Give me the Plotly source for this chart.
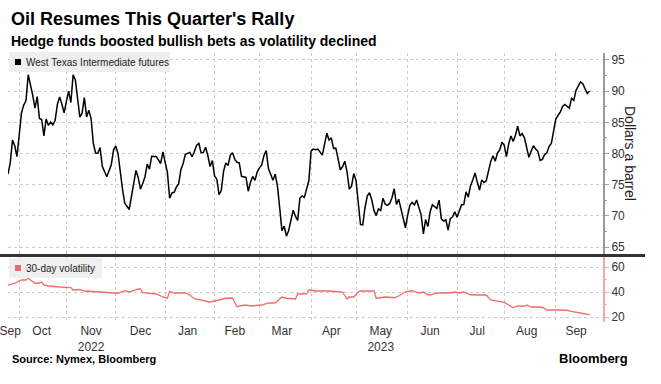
import plotly.graph_objects as go

# ---------------- data ----------------
wti_dates = [
    "2022-09-26", "2022-09-27", "2022-09-28", "2022-09-29", "2022-09-30",
    "2022-10-03", "2022-10-04", "2022-10-05", "2022-10-06", "2022-10-07", "2022-10-10", "2022-10-11",
    "2022-10-12", "2022-10-13", "2022-10-14", "2022-10-17", "2022-10-18", "2022-10-19", "2022-10-20",
    "2022-10-21", "2022-10-24", "2022-10-25", "2022-10-26", "2022-10-27", "2022-10-28", "2022-10-31",
    "2022-11-01", "2022-11-02", "2022-11-03", "2022-11-04", "2022-11-07", "2022-11-08", "2022-11-09",
    "2022-11-10", "2022-11-11", "2022-11-14", "2022-11-15", "2022-11-16", "2022-11-17", "2022-11-18",
    "2022-11-21", "2022-11-22", "2022-11-23", "2022-11-25", "2022-11-28", "2022-11-29", "2022-11-30",
    "2022-12-01", "2022-12-02", "2022-12-05", "2022-12-06", "2022-12-07", "2022-12-08", "2022-12-09",
    "2022-12-12", "2022-12-13", "2022-12-14", "2022-12-15", "2022-12-16", "2022-12-19", "2022-12-20",
    "2022-12-21", "2022-12-22", "2022-12-23", "2022-12-27", "2022-12-28", "2022-12-29", "2022-12-30",
    "2023-01-03", "2023-01-04", "2023-01-05", "2023-01-06", "2023-01-09", "2023-01-10", "2023-01-11",
    "2023-01-12", "2023-01-13", "2023-01-17", "2023-01-18", "2023-01-19", "2023-01-20", "2023-01-23",
    "2023-01-24", "2023-01-25", "2023-01-26", "2023-01-27", "2023-01-30", "2023-01-31",
    "2023-02-01", "2023-02-02", "2023-02-03", "2023-02-06", "2023-02-07", "2023-02-08", "2023-02-09",
    "2023-02-10", "2023-02-13", "2023-02-14", "2023-02-15", "2023-02-16", "2023-02-17", "2023-02-21",
    "2023-02-22", "2023-02-23", "2023-02-24", "2023-02-27", "2023-02-28",
    "2023-03-01", "2023-03-02", "2023-03-03", "2023-03-06", "2023-03-07", "2023-03-08", "2023-03-09",
    "2023-03-10", "2023-03-13", "2023-03-14", "2023-03-15", "2023-03-16", "2023-03-17", "2023-03-20",
    "2023-03-21", "2023-03-22", "2023-03-23", "2023-03-24", "2023-03-27", "2023-03-28", "2023-03-29",
    "2023-03-30", "2023-03-31",
    "2023-04-03", "2023-04-04", "2023-04-05", "2023-04-06", "2023-04-10", "2023-04-11", "2023-04-12",
    "2023-04-13", "2023-04-14", "2023-04-17", "2023-04-18", "2023-04-19", "2023-04-20", "2023-04-21",
    "2023-04-24", "2023-04-25", "2023-04-26", "2023-04-27", "2023-04-28",
    "2023-05-01", "2023-05-02", "2023-05-03", "2023-05-04", "2023-05-05", "2023-05-08", "2023-05-09",
    "2023-05-10", "2023-05-11", "2023-05-12", "2023-05-15", "2023-05-16", "2023-05-17", "2023-05-18",
    "2023-05-19", "2023-05-22", "2023-05-23", "2023-05-24", "2023-05-25", "2023-05-26", "2023-05-30",
    "2023-05-31",
    "2023-06-01", "2023-06-02", "2023-06-05", "2023-06-06", "2023-06-07", "2023-06-08", "2023-06-09",
    "2023-06-12", "2023-06-13", "2023-06-14", "2023-06-15", "2023-06-16", "2023-06-20", "2023-06-21",
    "2023-06-22", "2023-06-23", "2023-06-26", "2023-06-27", "2023-06-28", "2023-06-29", "2023-06-30",
    "2023-07-03", "2023-07-05", "2023-07-06", "2023-07-07", "2023-07-10", "2023-07-11", "2023-07-12",
    "2023-07-13", "2023-07-14", "2023-07-17", "2023-07-18", "2023-07-19", "2023-07-20", "2023-07-21",
    "2023-07-24", "2023-07-25", "2023-07-26", "2023-07-27", "2023-07-28", "2023-07-31",
    "2023-08-01", "2023-08-02", "2023-08-03", "2023-08-04", "2023-08-07", "2023-08-08", "2023-08-09",
    "2023-08-10", "2023-08-11", "2023-08-14", "2023-08-15", "2023-08-16", "2023-08-17", "2023-08-18",
    "2023-08-21", "2023-08-22", "2023-08-23", "2023-08-24", "2023-08-25", "2023-08-28", "2023-08-29",
    "2023-08-30", "2023-08-31",
    "2023-09-01", "2023-09-05", "2023-09-06", "2023-09-07", "2023-09-08", "2023-09-11", "2023-09-12",
    "2023-09-13", "2023-09-14", "2023-09-15", "2023-09-18", "2023-09-19", "2023-09-20", "2023-09-21",
    "2023-09-22",
]
wti_close = [
    76.71, 78.50, 82.15, 81.23, 79.49,
    83.63, 86.52, 87.76, 88.45, 92.64, 91.13, 89.35, 87.27, 89.11, 85.61, 85.46, 82.82, 85.55, 84.51,
    85.05, 84.58, 85.32, 87.91, 89.08, 87.90, 86.53,
    88.37, 90.00, 88.17, 92.61, 91.79, 88.91, 85.83, 86.47, 88.96, 85.87, 86.92, 85.59, 81.64, 80.08,
    80.04, 80.95, 77.94, 76.28, 77.24, 78.20, 80.55,
    81.22, 79.98, 76.93, 74.25, 72.01, 71.46, 71.02, 73.17, 75.39, 77.28, 76.11, 74.29, 75.19, 76.23,
    78.29, 77.49, 79.56, 79.53, 78.96, 78.40, 80.26,
    76.93, 72.84, 73.67, 73.77, 74.63, 75.12, 77.41, 78.39, 79.86, 80.18, 79.48, 80.33, 81.31, 81.62,
    80.13, 80.15, 81.01, 79.68, 77.90, 78.87,
    76.41, 75.88, 73.39, 74.11, 77.14, 78.47, 78.06, 79.72, 80.14, 79.06, 78.59, 78.49, 76.34, 76.16,
    73.95, 75.39, 76.32, 75.68, 77.05,
    77.69, 78.16, 79.68, 80.46, 77.58, 76.66, 75.72, 76.68, 74.80, 71.33, 67.61, 68.35, 66.74, 67.64,
    69.33, 70.90, 69.96, 69.26, 72.81, 73.20, 72.97, 74.37, 75.67,
    80.42, 80.71, 80.61, 80.70, 79.74, 81.53, 83.26, 82.16, 82.52, 80.83, 80.86, 79.16, 77.37, 77.87,
    78.76, 77.07, 74.30, 74.76, 76.78,
    75.66, 71.66, 68.60, 68.56, 71.34, 73.16, 73.71, 72.56, 70.87, 70.04, 71.11, 70.86, 72.83, 71.86,
    71.69, 71.99, 72.91, 74.34, 71.83, 72.67, 69.46, 68.09,
    70.10, 71.74, 72.15, 71.74, 72.53, 71.29, 70.17, 67.12, 69.42, 68.27, 70.62, 71.78, 71.19, 72.53,
    69.51, 69.16, 69.37, 67.70, 69.56, 69.86, 70.64,
    69.79, 71.79, 71.80, 73.86, 72.99, 74.83, 75.75, 76.89, 75.42, 74.15, 75.75, 75.35, 75.63, 77.07,
    78.74, 79.63, 78.78, 80.09, 80.58, 81.80,
    81.37, 79.49, 81.55, 82.82, 81.94, 82.92, 84.40, 82.82, 83.19, 82.51, 80.99, 79.38, 80.39, 81.25,
    80.72, 80.35, 78.89, 79.05, 79.83, 80.10, 81.16, 81.63, 83.63,
    85.55, 86.69, 87.54, 87.87, 87.51, 87.29, 88.84, 88.52, 90.16, 90.77, 91.48, 91.20, 90.28, 89.63,
    90.03,
]

vol_dates = [
    "2022-09-26", "2022-09-29", "2022-10-04", "2022-10-06", "2022-10-07", "2022-10-12", "2022-10-14",
    "2022-10-17", "2022-10-18", "2022-10-20", "2022-10-27", "2022-11-03", "2022-11-04", "2022-11-09",
    "2022-11-11", "2022-11-22", "2022-11-30", "2022-12-02", "2022-12-07", "2022-12-09", "2022-12-15",
    "2022-12-16", "2022-12-19", "2022-12-27", "2022-12-30", "2023-01-03", "2023-01-04", "2023-01-06",
    "2023-01-13", "2023-01-17", "2023-01-19", "2023-01-24", "2023-01-26", "2023-01-30", "2023-02-03",
    "2023-02-08", "2023-02-13", "2023-02-15", "2023-02-16", "2023-02-21", "2023-02-23", "2023-03-02",
    "2023-03-07", "2023-03-10", "2023-03-15", "2023-03-17", "2023-03-23", "2023-03-24", "2023-03-28",
    "2023-03-30", "2023-03-31", "2023-04-05", "2023-04-13", "2023-04-19", "2023-04-21", "2023-04-25",
    "2023-04-26", "2023-04-28", "2023-05-02", "2023-05-03", "2023-05-11", "2023-05-12", "2023-05-18",
    "2023-05-24", "2023-05-26", "2023-05-31", "2023-06-02", "2023-06-05", "2023-06-08", "2023-06-12",
    "2023-06-14", "2023-06-15", "2023-06-20", "2023-06-28", "2023-06-30", "2023-07-04", "2023-07-06",
    "2023-07-11", "2023-07-17", "2023-07-20", "2023-07-24", "2023-07-28", "2023-08-01", "2023-08-03",
    "2023-08-07", "2023-08-09", "2023-08-14", "2023-08-15", "2023-08-17", "2023-08-24", "2023-08-28",
    "2023-09-01", "2023-09-08", "2023-09-12", "2023-09-14", "2023-09-19", "2023-09-22",
]
vol_values = [
    45.5, 47.0, 49.6, 49.6, 51.0, 47.0, 47.2,
    48.0, 45.6, 44.8, 44.0, 43.5, 41.6, 42.0,
    40.8, 40.0, 38.8, 39.0, 41.0, 40.0, 42.4,
    42.4, 39.4, 38.4, 36.0, 35.0, 40.5, 39.2,
    39.2, 37.6, 34.6, 33.6, 32.4, 32.0, 33.6,
    35.0, 35.2, 28.0, 28.8, 29.6, 28.8, 29.6,
    31.2, 31.2, 36.0, 35.0, 34.4, 38.4, 38.4,
    38.6, 41.8, 40.8, 40.8, 40.2, 40.0, 34.4,
    36.0, 36.0, 40.0, 40.8, 40.8, 35.0, 36.0,
    35.4, 36.8, 40.2, 41.0, 41.0, 39.2, 40.0,
    37.8, 37.6, 39.2, 39.2, 40.0, 39.2, 40.0,
    37.8, 37.6, 37.6, 33.6, 32.0, 31.7, 29.6,
    27.4, 28.8, 28.6, 29.6, 28.0, 27.8, 25.6,
    25.6, 25.4, 24.5, 23.8, 22.6, 21.8,
]

month_label_dates = ["2022-09-27", "2022-10-17", "2022-11-16", "2022-12-16", "2023-01-16", "2023-02-14",
                     "2023-03-15", "2023-04-14", "2023-05-16", "2023-06-15", "2023-07-14", "2023-08-15",
                     "2023-09-14"]
month_labels = ["Sep", "Oct", "Nov<br>2022", "Dec", "Jan", "Feb", "Mar", "Apr", "May<br>2023", "Jun",
                "Jul", "Aug", "Sep"]
month_start_dates = ["2022-10-03", "2022-11-01", "2022-12-01", "2023-01-02", "2023-02-01", "2023-03-01",
                     "2023-04-03", "2023-05-01", "2023-06-01", "2023-07-03", "2023-08-01", "2023-09-01"]
wti_ticks = [65, 70, 75, 80, 85, 90, 95]
vol_ticks = [20, 40, 60]

# ---------------- geometry helpers (pixel -> paper) ----------------
W, H = 661, 384
L, R, T, B = 8, 58, 53, 62
PW, PH = W - L - R, H - T - B


def px(x):
    return (x - L) / PW


def py(y):
    return (H - B - y) / PH


FONT = "Liberation Sans, Arial, sans-serif"
GRID = "#cccccc"
VOL_RED = "#f26b6b"
x_range = ["2022-09-26", "2023-09-29 23:59"]
breaks = [dict(bounds=["sat", "mon"])]

fig = go.Figure()
fig.add_trace(go.Scatter(x=wti_dates, y=wti_close, mode="lines", xaxis="x", yaxis="y",
                         line=dict(color="#000000", width=1.5), showlegend=False, hoverinfo="skip"))
fig.add_trace(go.Scatter(x=vol_dates, y=vol_values, mode="lines", xaxis="x2", yaxis="y2",
                         line=dict(color=VOL_RED, width=1.3), showlegend=False, hoverinfo="skip"))

xcommon = dict(type="date", range=x_range, rangebreaks=breaks, tickmode="array", automargin=False,
               tickvals=month_label_dates, ticktext=month_labels, ticks="", showgrid=False,
               zeroline=False, showline=False, ticklabeloverflow="allow",
               minor=dict(tickmode="array", tickvals=month_start_dates, showgrid=True,
                          gridcolor=GRID, griddash="dot", gridwidth=1, ticks=""),
               tickfont=dict(family=FONT, size=12, color="#333333"))

ydomain_top = [py(254), 1.0]
ydomain_bot = [0.0, py(257)]

fig.update_layout(
    template="none",
    width=W, height=H,
    margin=dict(l=L, r=R, t=T, b=B, pad=0, autoexpand=False),
    paper_bgcolor="white", plot_bgcolor="white",
    showlegend=False,
    xaxis=dict(**xcommon, anchor="y", showticklabels=False),
    xaxis2=dict(**xcommon, anchor="y2", showticklabels=True),
    yaxis=dict(domain=ydomain_top, anchor="x", side="right", range=[63.88, 96.12], automargin=False,
               tickmode="array", tickvals=wti_ticks, showgrid=True, gridcolor=GRID, griddash="dot",
               zeroline=False, showline=True, linecolor="#9a9a9a", linewidth=2,
               ticks="outside", ticklen=4, tickcolor="#9a9a9a", tickwidth=1,
               minor=dict(dtick=2.5, ticks="outside", ticklen=2, tickcolor="#9a9a9a", showgrid=False),
               tickfont=dict(family=FONT, size=12, color="#333333")),
    yaxis2=dict(domain=ydomain_bot, anchor="x2", side="right", range=[16, 68], automargin=False,
                tickmode="array", tickvals=vol_ticks, showgrid=True, gridcolor=GRID, griddash="dot",
                zeroline=False, showline=True, linecolor="#f5a9a9", linewidth=2,
                ticks="outside", ticklen=4, tickcolor="#f5a9a9", tickwidth=1,
                minor=dict(dtick=10, ticks="outside", ticklen=2, tickcolor="#f5a9a9", showgrid=False),
                tickfont=dict(family=FONT, size=12, color="#333333")),
)

shapes = [
    # separator between panels
    dict(type="line", xref="paper", yref="paper", x0=px(0), x1=px(645), y0=py(255.5), y1=py(255.5),
         line=dict(color="#333333", width=3)),
    # WTI legend box
    dict(type="rect", xref="paper", yref="paper", x0=px(9), x1=px(170), y0=py(72), y1=py(52),
         fillcolor="#efefef", line=dict(width=0)),
    dict(type="rect", xref="paper", yref="paper", x0=px(15), x1=px(21), y0=py(65), y1=py(59),
         fillcolor="#000000", line=dict(width=0)),
    # volatility legend box
    dict(type="rect", xref="paper", yref="paper", x0=px(9), x1=px(102), y0=py(278), y1=py(258),
         fillcolor="#efefef", line=dict(width=0)),
    dict(type="rect", xref="paper", yref="paper", x0=px(15), x1=px(21), y0=py(271), y1=py(265),
         fillcolor=VOL_RED, line=dict(width=0)),
]
fig.update_layout(shapes=shapes)

ann = [
    dict(text="<b>Oil Resumes This Quarter's Rally</b>", x=px(9), y=py(19), xanchor="left",
         yanchor="middle", font=dict(family=FONT, size=18, color="#000000")),
    dict(text="<b>Hedge funds boosted bullish bets as volatility declined</b>", x=px(9), y=py(41),
         xanchor="left", yanchor="middle", font=dict(family=FONT, size=14, color="#000000")),
    dict(text="West Texas Intermediate futures", x=px(24), y=py(62), xanchor="left", yanchor="middle",
         font=dict(family=FONT, size=10, color="#222222")),
    dict(text="30-day volatility", x=px(24), y=py(268), xanchor="left", yanchor="middle",
         font=dict(family=FONT, size=10, color="#222222")),
    dict(text="Dollars a barrel", x=px(630), y=py(153), xanchor="center", yanchor="middle",
         textangle=90, font=dict(family=FONT, size=14, color="#222222")),
    dict(text="<b>Source: Nymex, Bloomberg</b>", x=px(10), y=py(359), xanchor="left", yanchor="middle",
         font=dict(family=FONT, size=11, color="#000000")),
    dict(text="<b>Bloomberg</b>", x=px(630), y=py(358), xanchor="right", yanchor="middle",
         font=dict(family=FONT, size=13, color="#000000")),
]
for a in ann:
    a.update(xref="paper", yref="paper", showarrow=False)
fig.update_layout(annotations=ann)

# the default page body has an 8px margin; remove it so the figure sits at the window origin
fig.write_html("out.html", config={"displayModeBar": False},
               post_script="document.body.style.margin='0px';")
